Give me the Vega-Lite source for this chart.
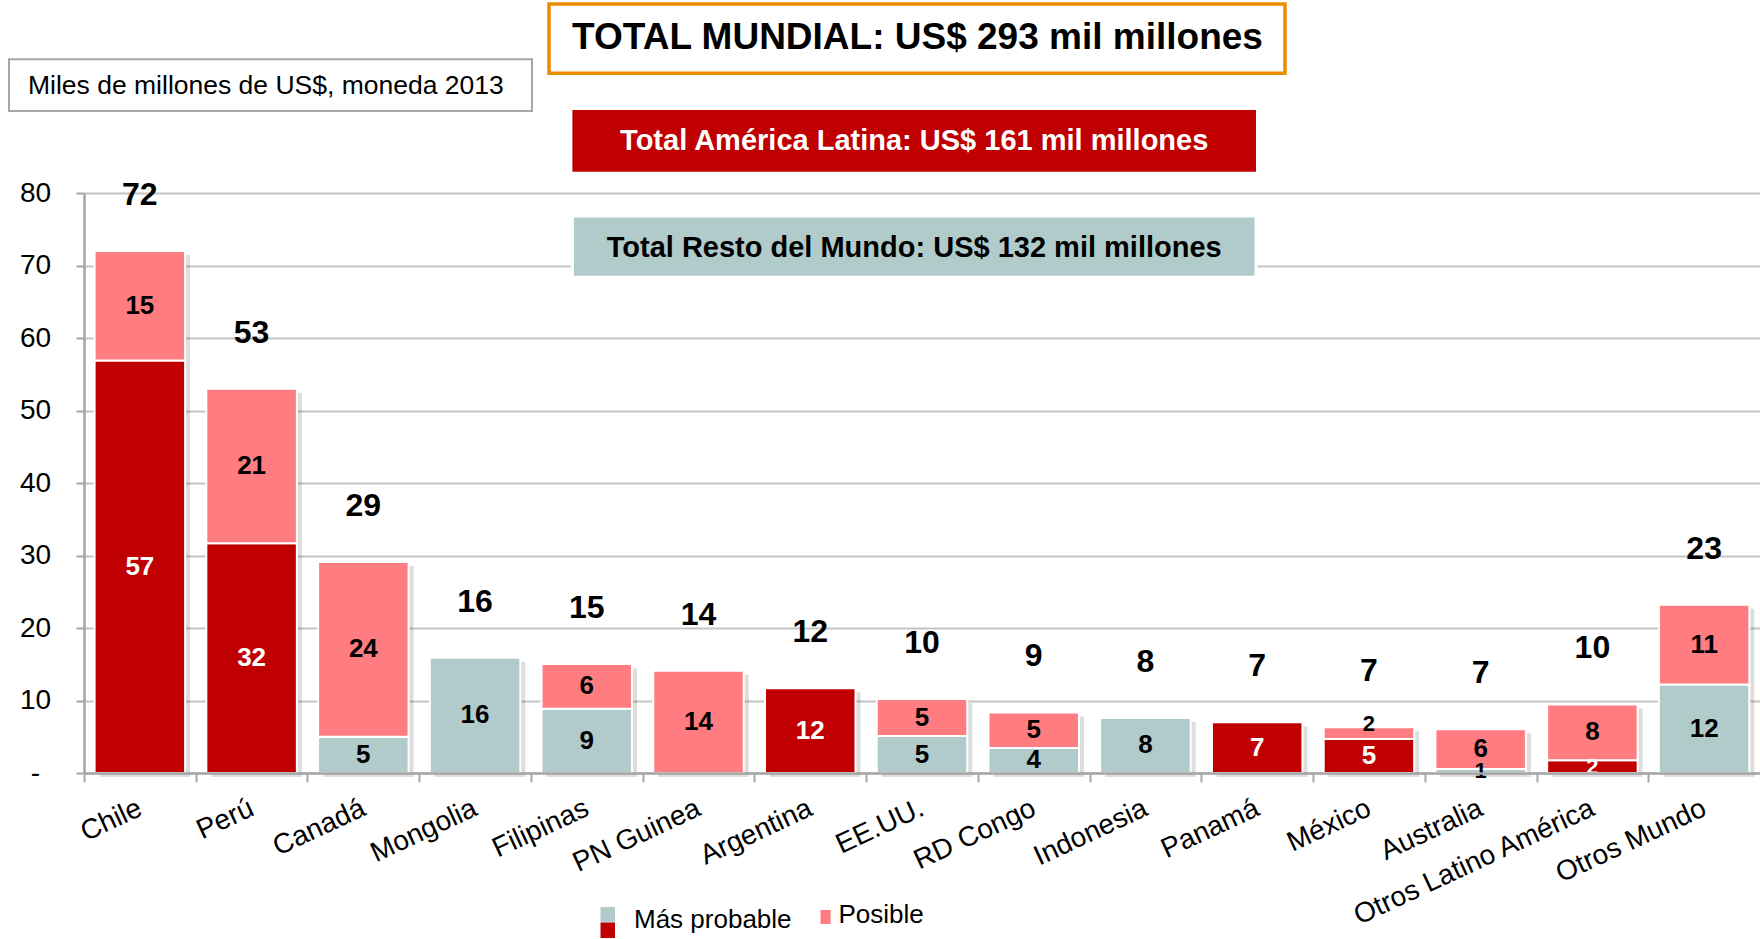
{
  "$schema": "https://vega.github.io/schema/vega-lite/v6.json",
  "width": 1676,
  "height": 580,
  "autosize": {"type": "none"},
  "padding": {"left": 84, "top": 193, "right": 0, "bottom": 166},
  "background": "white",
  "config": {
    "view": {"stroke": null},
    "font": "Liberation Sans",
    "axisY": {
      "tickCount": 8,
      "labelExpr": "datum.value === 0 ? '-' : datum.label",
      "labelFont": "Liberation Sans",
      "labelFontSize": 28,
      "labelColor": "#000000",
      "labelAlign": "center",
      "labelPadding": 41,
      "tickSize": 8,
      "tickWidth": 2,
      "tickColor": "#A6A6A6",
      "domainColor": "#A6A6A6",
      "domainWidth": 2.5,
      "grid": true,
      "gridColor": "#C4C4C4",
      "gridWidth": 2,
      "title": null
    }
  },
  "datasets": {
    "segmentos": [
      {"pais": "Chile", "tipo": "Más probable AL", "valor": 56.9, "etiqueta": "57"},
      {"pais": "Chile", "tipo": "Posible", "valor": 15.1, "etiqueta": "15"},
      {"pais": "Perú", "tipo": "Más probable AL", "valor": 31.7, "etiqueta": "32"},
      {"pais": "Perú", "tipo": "Posible", "valor": 21.3, "etiqueta": "21"},
      {"pais": "Canadá", "tipo": "Más probable RM", "valor": 5.0, "etiqueta": "5"},
      {"pais": "Canadá", "tipo": "Posible", "valor": 24.1, "etiqueta": "24"},
      {"pais": "Mongolia", "tipo": "Más probable RM", "valor": 15.9, "etiqueta": "16"},
      {"pais": "Filipinas", "tipo": "Más probable RM", "valor": 8.85, "etiqueta": "9"},
      {"pais": "Filipinas", "tipo": "Posible", "valor": 6.2, "etiqueta": "6"},
      {"pais": "PN Guinea", "tipo": "Posible", "valor": 14.1, "etiqueta": "14"},
      {"pais": "Argentina", "tipo": "Más probable AL", "valor": 11.7, "etiqueta": "12"},
      {"pais": "EE.UU.", "tipo": "Más probable RM", "valor": 5.1, "etiqueta": "5"},
      {"pais": "EE.UU.", "tipo": "Posible", "valor": 5.1, "etiqueta": "5"},
      {"pais": "RD Congo", "tipo": "Más probable RM", "valor": 3.45, "etiqueta": "4"},
      {"pais": "RD Congo", "tipo": "Posible", "valor": 4.9, "etiqueta": "5"},
      {"pais": "Indonesia", "tipo": "Más probable RM", "valor": 7.6, "etiqueta": "8"},
      {"pais": "Panamá", "tipo": "Más probable AL", "valor": 7.0, "etiqueta": "7"},
      {"pais": "México", "tipo": "Más probable AL", "valor": 4.7, "etiqueta": "5"},
      {"pais": "México", "tipo": "Posible", "valor": 1.6, "etiqueta": "2"},
      {"pais": "Australia", "tipo": "Más probable RM", "valor": 0.55, "etiqueta": "1"},
      {"pais": "Australia", "tipo": "Posible", "valor": 5.5, "etiqueta": "6"},
      {"pais": "Otros Latino América", "tipo": "Más probable AL", "valor": 1.75, "etiqueta": "2"},
      {"pais": "Otros Latino América", "tipo": "Posible", "valor": 7.7, "etiqueta": "8"},
      {"pais": "Otros Mundo", "tipo": "Más probable RM", "valor": 12.2, "etiqueta": "12"},
      {"pais": "Otros Mundo", "tipo": "Posible", "valor": 11.0, "etiqueta": "11"}
    ],
    "totales": [
      {"pais": "Chile", "total": 72.0, "etiqueta": "72"},
      {"pais": "Perú", "total": 53.0, "etiqueta": "53"},
      {"pais": "Canadá", "total": 29.1, "etiqueta": "29"},
      {"pais": "Mongolia", "total": 15.9, "etiqueta": "16"},
      {"pais": "Filipinas", "total": 15.05, "etiqueta": "15"},
      {"pais": "PN Guinea", "total": 14.1, "etiqueta": "14"},
      {"pais": "Argentina", "total": 11.7, "etiqueta": "12"},
      {"pais": "EE.UU.", "total": 10.2, "etiqueta": "10"},
      {"pais": "RD Congo", "total": 8.35, "etiqueta": "9"},
      {"pais": "Indonesia", "total": 7.6, "etiqueta": "8"},
      {"pais": "Panamá", "total": 7.0, "etiqueta": "7"},
      {"pais": "México", "total": 6.3, "etiqueta": "7"},
      {"pais": "Australia", "total": 6.05, "etiqueta": "7"},
      {"pais": "Otros Latino América", "total": 9.45, "etiqueta": "10"},
      {"pais": "Otros Mundo", "total": 23.2, "etiqueta": "23"}
    ]
  },
  "layer": [
    {
      "data": {"name": "segmentos"},
      "encoding": {
        "x": {
          "field": "pais",
          "type": "nominal",
          "sort": null,
          "title": null,
          "scale": {
            "domain": ["Chile", "Perú", "Canadá", "Mongolia", "Filipinas", "PN Guinea", "Argentina", "EE.UU.", "RD Congo", "Indonesia", "Panamá", "México", "Australia", "Otros Latino América", "Otros Mundo"],
            "paddingInner": 0.19,
            "paddingOuter": 0.095
          },
          "axis": {
            "zindex": 1,
            "labelAngle": -25,
            "labelFont": "Liberation Sans",
            "labelFontSize": 28,
            "labelColor": "#000000",
            "labelPadding": 12,
            "labelOffset": 50,
            "labelLimit": 500,
            "tickOffset": -55.87,
            "tickSize": 9,
            "tickWidth": 2,
            "tickColor": "#A6A6A6",
            "domainColor": "#A6A6A6",
            "domainWidth": 2.5,
            "labelOverlap": false
          }
        }
      },
      "layer": [
        {
          "data": {"name": "totales"},
          "mark": {"type": "bar", "color": "#000000", "opacity": 0.13, "xOffset": 5, "yOffset": 4, "y2Offset": 0},
          "encoding": {
            "y": {"field": "total", "type": "quantitative", "title": null, "scale": {"domain": [0, 80], "nice": false}}
          }
        },
        {
          "mark": {"type": "bar", "stroke": "white", "strokeWidth": 2},
          "encoding": {
            "y": {
              "field": "valor",
              "type": "quantitative",
              "stack": "zero",
              "title": null,
              "scale": {"domain": [0, 80], "nice": false}
            },
            "color": {
              "field": "tipo",
              "type": "nominal",
              "scale": {"domain": ["Más probable AL", "Más probable RM", "Posible"], "range": ["#C00000", "#B0CBCA", "#FF7C80"]},
              "legend": null
            },
            "order": {"field": "tipo", "sort": "ascending"}
          }
        },
        {
          "transform": [
            {"stack": "valor", "groupby": ["pais"], "sort": [{"field": "tipo", "order": "ascending"}], "as": ["v0", "v1"]},
            {"calculate": "(datum.v0 + datum.v1) / 2", "as": "vmid"},
            {"filter": "!(datum.tipo === 'Posible' && datum.valor < 2)"}
          ],
          "mark": {"type": "text", "fontWeight": "bold", "align": "center", "baseline": "middle", "font": "Liberation Sans"},
          "encoding": {
            "y": {"field": "vmid", "type": "quantitative", "title": null},
            "text": {"field": "etiqueta"},
            "color": {"condition": {"test": "datum.tipo === 'Más probable AL'", "value": "#FFFFFF"}, "value": "#000000"},
            "size": {"condition": {"test": "datum.valor < 2", "value": 22}, "value": 26}
          }
        },
        {
          "transform": [
            {"stack": "valor", "groupby": ["pais"], "sort": [{"field": "tipo", "order": "ascending"}], "as": ["v0", "v1"]},
            {"calculate": "(datum.v0 + datum.v1) / 2", "as": "vmid"},
            {"filter": "datum.tipo === 'Posible' && datum.valor < 2"}
          ],
          "mark": {"type": "text", "fontWeight": "bold", "align": "center", "baseline": "middle", "font": "Liberation Sans", "fontSize": 22, "dy": -9, "color": "#000000"},
          "encoding": {
            "y": {"field": "vmid", "type": "quantitative", "title": null},
            "text": {"field": "etiqueta"}
          }
        },
        {
          "data": {"name": "totales"},
          "mark": {"type": "text", "fontWeight": "bold", "fontSize": 32, "align": "center", "baseline": "middle", "dy": -56, "color": "#000000", "font": "Liberation Sans"},
          "encoding": {
            "y": {"field": "total", "type": "quantitative", "title": null},
            "text": {"field": "etiqueta"}
          }
        }
      ]
    },
    {
      "data": {"values": [{}]},
      "layer": [
        {
          "mark": {"type": "rect", "fill": "white", "stroke": "#A6A6A6", "strokeWidth": 2},
          "encoding": {
            "x": {"datum": -0.6712, "type": "quantitative", "scale": {"domain": [0, 15], "nice": false, "zero": false}, "axis": null},
            "x2": {"datum": 4.0095},
            "y": {"datum": 98.44, "type": "quantitative", "title": null},
            "y2": {"datum": 91.31}
          }
        },
        {
          "mark": {"type": "text", "align": "left", "baseline": "middle", "fontSize": 26.5, "color": "#000000", "font": "Liberation Sans"},
          "encoding": {
            "x": {"datum": -0.5012, "type": "quantitative", "axis": null},
            "y": {"datum": 94.76, "type": "quantitative", "title": null},
            "text": {"value": "Miles de millones de US$, moneda 2013"}
          }
        },
        {
          "mark": {"type": "rect", "fill": "white", "stroke": "#EB8C00", "strokeWidth": 3.5},
          "encoding": {
            "x": {"datum": 4.1617, "type": "quantitative", "axis": null},
            "x2": {"datum": 10.7488},
            "y": {"datum": 106.07, "type": "quantitative", "title": null},
            "y2": {"datum": 96.51}
          }
        },
        {
          "mark": {"type": "text", "align": "center", "baseline": "middle", "fontSize": 37, "fontWeight": "bold", "color": "#000000", "font": "Liberation Sans"},
          "encoding": {
            "x": {"datum": 7.4597, "type": "quantitative", "axis": null},
            "y": {"datum": 101.38, "type": "quantitative", "title": null},
            "text": {"value": "TOTAL MUNDIAL: US$ 293 mil millones"}
          }
        },
        {
          "mark": {"type": "rect", "fill": "#C00000"},
          "encoding": {
            "x": {"datum": 4.3711, "type": "quantitative", "axis": null},
            "x2": {"datum": 10.4893},
            "y": {"datum": 91.45, "type": "quantitative", "title": null},
            "y2": {"datum": 82.94}
          }
        },
        {
          "mark": {"type": "text", "align": "center", "baseline": "middle", "fontSize": 29, "fontWeight": "bold", "color": "#FFFFFF", "font": "Liberation Sans"},
          "encoding": {
            "x": {"datum": 7.4302, "type": "quantitative", "axis": null},
            "y": {"datum": 87.17, "type": "quantitative", "title": null},
            "text": {"value": "Total América Latina: US$ 161 mil millones"}
          }
        },
        {
          "mark": {"type": "rect", "fill": "#B0CBCA", "stroke": "white", "strokeWidth": 3},
          "encoding": {
            "x": {"datum": 4.3711, "type": "quantitative", "axis": null},
            "x2": {"datum": 10.4893},
            "y": {"datum": 76.83, "type": "quantitative", "title": null},
            "y2": {"datum": 68.37}
          }
        },
        {
          "mark": {"type": "text", "align": "center", "baseline": "middle", "fontSize": 29, "fontWeight": "bold", "color": "#000000", "font": "Liberation Sans"},
          "encoding": {
            "x": {"datum": 7.4302, "type": "quantitative", "axis": null},
            "y": {"datum": 72.48, "type": "quantitative", "title": null},
            "text": {"value": "Total Resto del Mundo: US$ 132 mil millones"}
          }
        },
        {
          "mark": {"type": "rect", "fill": "#B0CBCA"},
          "encoding": {
            "x": {"datum": 4.6226, "type": "quantitative", "axis": null},
            "x2": {"datum": 4.7524},
            "y": {"datum": -18.48, "type": "quantitative", "title": null},
            "y2": {"datum": -20.63}
          }
        },
        {
          "mark": {"type": "rect", "fill": "#C00000"},
          "encoding": {
            "x": {"datum": 4.6226, "type": "quantitative", "axis": null},
            "x2": {"datum": 4.7524},
            "y": {"datum": -20.63, "type": "quantitative", "title": null},
            "y2": {"datum": -22.76}
          }
        },
        {
          "mark": {"type": "text", "align": "left", "baseline": "middle", "fontSize": 26, "color": "#000000", "font": "Liberation Sans"},
          "encoding": {
            "x": {"datum": 4.9224, "type": "quantitative", "axis": null},
            "y": {"datum": -20.28, "type": "quantitative", "title": null},
            "text": {"value": "Más probable"}
          }
        },
        {
          "mark": {"type": "rect", "fill": "#FF7C80"},
          "encoding": {
            "x": {"datum": 6.5916, "type": "quantitative", "axis": null},
            "x2": {"datum": 6.682},
            "y": {"datum": -18.9, "type": "quantitative", "title": null},
            "y2": {"datum": -20.83}
          }
        },
        {
          "mark": {"type": "text", "align": "left", "baseline": "middle", "fontSize": 26, "color": "#000000", "font": "Liberation Sans"},
          "encoding": {
            "x": {"datum": 6.7527, "type": "quantitative", "axis": null},
            "y": {"datum": -19.59, "type": "quantitative", "title": null},
            "text": {"value": "Posible"}
          }
        }
      ]
    }
  ],
  "resolve": {"scale": {"x": "independent"}}
}
